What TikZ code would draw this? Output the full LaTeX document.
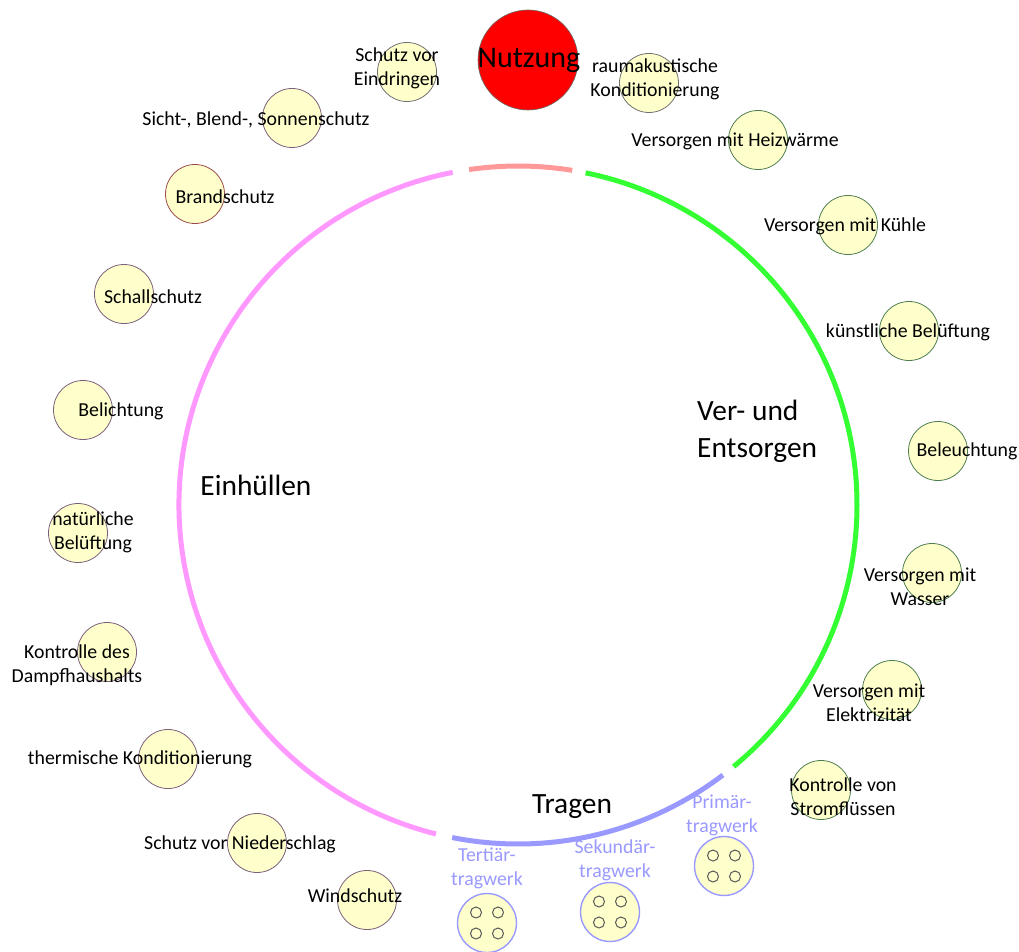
\documentclass[tikz,border=0pt]{standalone}
\usepackage{fontspec}
\setmainfont{Carlito}
\usetikzlibrary{calc}
\definecolor{subfill}{HTML}{FFFFCC}
\definecolor{hullarc}{HTML}{FF99FF}
\definecolor{usearc}{HTML}{FF9999}
\definecolor{supplyarc}{HTML}{33FF33}
\definecolor{carryarc}{HTML}{9999FF}
\definecolor{hullline}{HTML}{7A607A}
\definecolor{fireline}{HTML}{9A4A4A}
\definecolor{supplyline}{HTML}{4E7E50}
\definecolor{neutralline}{HTML}{707070}
\tikzset{
  sub/.style={circle, fill=subfill, minimum size=59pt, inner sep=0pt, line width=0.8pt},
  hull/.style={sub, draw=hullline},
  fire/.style={sub, draw=fireline},
  neutral/.style={sub, draw=neutralline},
  supply/.style={sub, draw=supplyline},
  carry/.style={sub, draw=carryarc, line width=1.4pt},
  hole/.style={circle, draw=black!65, fill=subfill, minimum size=11pt, inner sep=0pt, line width=1pt},
  lbl/.style={font=\fontsize{19.8}{24}\selectfont, align=center, inner sep=0pt},
  carrylbl/.style={lbl, text=carryarc},
  big/.style={font=\fontsize{29.4}{37}\selectfont, inner sep=0pt},
  ring/.style={line width=5pt}
}
\begin{document}
\begin{tikzpicture}[x=1pt,y=1pt]
\useasboundingbox (0,0) rectangle (1019,-952);
% main ring, split into the four function groups
\coordinate (C) at (518,-505);
\draw[ring, hullarc] (C) ++(101.1:339) arc[start angle=101.1, end angle=256, radius=339];
\draw[ring, usearc] (C) ++(80.8:339) arc[start angle=80.8, end angle=98.3, radius=339];
\draw[ring, supplyarc] (C) ++(-50.5:339) arc[start angle=-50.5, end angle=78.5, radius=339];
\draw[ring, carryarc] (C) ++(258.8:339) arc[start angle=258.8, end angle=307.2, radius=339];

% usage
\node[circle, fill=red, draw=black!60, line width=0.6pt, minimum size=100pt, inner sep=0pt] (use) at (528,-60) {};
\node[font=\fontsize{30}{36}\selectfont, inner sep=0pt] (uselbl) at (529,-60) {Nutzung};

% enclosing functions
\node[neutral] (e1) at (407,-72) {};
\node[neutral] (u1) at (649,-83) {};
\node[hull] (e2) at (292,-118) {};
\node[fire] (e3) at (195,-194) {};
\node[hull] (e4) at (124,-294) {};
\node[hull] (e5) at (83,-410) {};
\node[hull] (e6) at (78,-533) {};
\node[hull] (e7) at (107,-652) {};
\node[hull] (e8) at (168,-759) {};
\node[hull] (e9) at (257,-843) {};
\node[hull] (e10) at (367,-900) {};

% supply functions
\node[supply] (v1) at (758,-140) {};
\node[supply] (v2) at (848,-225) {};
\node[supply] (v3) at (909,-331) {};
\node[supply] (v4) at (938,-451) {};
\node[supply] (v5) at (932,-573) {};
\node[supply] (v6) at (892,-690) {};
\node[supply] (v7) at (821,-790) {};

% load-bearing structure
\foreach \n/\x/\y in {t3/487/-923, t2/610/-912, t1/724/-866}{
  \node[carry] (\n) at (\x,\y) {};
  \node[hole] (\n a) at ($(\x,\y)+(-11,10.5)$) {};
  \node[hole] (\n b) at ($(\x,\y)+(11,10.5)$) {};
  \node[hole] (\n c) at ($(\x,\y)+(-11,-10.5)$) {};
  \node[hole] (\n d) at ($(\x,\y)+(11,-10.5)$) {};
}

% labels
\node[lbl] (e1l) at (397,-68) {Schutz vor\\Eindringen};
\node[lbl] (u1l) at (655,-79.5) {raumakustische\\Konditionierung};
\node[lbl] (e2l) at (256,-119.5) {Sicht-, Blend-, Sonnenschutz};
\node[lbl] (e3l) at (225,-196.5) {Brandschutz};
\node[lbl] (e4l) at (153,-296.5) {Schallschutz};
\node[lbl] (e5l) at (121,-411.5) {Belichtung};
\node[lbl] (e6l) at (93,-532.5) {natürliche\\Belüftung};
\node[lbl] (e7l) at (77,-665.5) {Kontrolle des\\Dampfhaushalts};
\node[lbl] (e8l) at (140,-759.5) {thermische Konditionierung};
\node[lbl] (e9l) at (240,-844.5) {Schutz vor Niederschlag};
\node[lbl] (e10l) at (355,-895.5) {Windschutz};

\node[lbl] (v1l) at (735,-141.5) {Versorgen mit Heizwärme};
\node[lbl] (v2l) at (845,-226.5) {Versorgen mit Kühle};
\node[lbl] (v3l) at (908,-332.5) {künstliche Belüftung};
\node[lbl] (v4l) at (967,-451.5) {Beleuchtung};
\node[lbl] (v5l) at (920,-586.5) {Versorgen mit\\Wasser};
\node[lbl] (v6l) at (869,-702.5) {Versorgen mit\\Elektrizität};
\node[lbl] (v7l) at (843,-796.5) {Kontrolle von\\Stromflüssen};

\node[carrylbl] (t3l) at (487,-868.5) {Tertiär-\\tragwerk};
\node[carrylbl] (t2l) at (615,-860.5) {Sekundär-\\tragwerk};
\node[carrylbl] (t1l) at (722,-815.5) {Primär-\\tragwerk};

% group titles
\node[big] (hulltitle) at (256,-485) {Einhüllen};
\node[big] (carrytitle) at (572,-807) {Tragen};
\node[big, align=left, anchor=west] (supplytitle) at (697,-431) {Ver- und\\Entsorgen};
\end{tikzpicture}
\end{document}
